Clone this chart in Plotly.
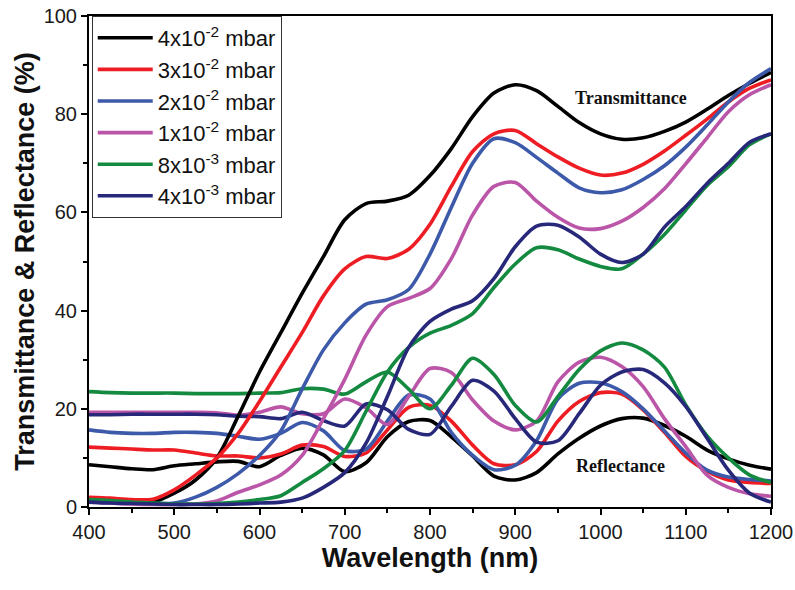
import plotly.graph_objects as go

wavelength = [400, 425, 450, 475, 500, 525, 550, 575, 600, 625, 650, 675, 700, 725, 750, 775,
              800, 825, 850, 875, 900, 925, 950, 975, 1000, 1025, 1050, 1075, 1100, 1125, 1150, 1175, 1200]

labels = ["4x10<sup>-2</sup> mbar", "3x10<sup>-2</sup> mbar", "2x10<sup>-2</sup> mbar",
          "1x10<sup>-2</sup> mbar", "8x10<sup>-3</sup> mbar", "4x10<sup>-3</sup> mbar"]
colors = ["#000000", "#ee1d24", "#3c5aa9", "#bb55a8", "#148a40", "#27287a"]

# Transmittance (%)
T_4e2 = [1.5, 1.3, 1.0, 1.0, 2.8, 5.5, 10, 18.5, 27.5, 35.5, 43.5, 51, 58.5, 61.8, 62.3, 63.5,
         67.5, 73, 79.5, 84.3, 86, 84.8, 81.6, 78.3, 76, 74.9, 75.2, 76.5, 78.4, 81, 83.8, 86.3, 88.5]
T_3e2 = [2.0, 1.8, 1.5, 1.6, 3.5, 6.5, 10, 15, 21.5, 28.5, 35.5, 43, 48.5, 51, 50.6, 52.5,
         57.6, 65.3, 72.4, 76, 76.7, 74, 71.3, 69, 67.6, 68, 69.8, 72.5, 75.7, 79, 82.5, 85.3, 87]
T_2e2 = [1.0, 1.0, 0.8, 0.7, 0.8, 2.0, 4.0, 6.8, 10.5, 15.5, 24, 32, 37.5, 41.3, 42.2, 44.3,
         51.5, 61, 70, 75, 74.2, 71.2, 68, 65, 64, 64.6, 66.7, 69.5, 73.3, 77.8, 82.5, 86.5, 89.3]
T_1e2 = [1.0, 0.8, 0.6, 0.5, 0.5, 0.6, 1.2, 3.0, 4.5, 6.5, 10.5, 18, 26, 35, 40.8, 42.5,
         44.5, 50.6, 59.5, 65.3, 66.1, 62.3, 59, 56.8, 56.7, 58.2, 61, 64.8, 69.9, 75.2, 80.5, 84, 86]
T_8e3 = [1.5, 1.3, 1.0, 0.8, 0.6, 0.6, 0.7, 1.0, 1.5, 2.3, 5.0, 7.8, 11.5, 19.5, 27.5, 32.5,
         35.4, 37, 39.4, 44.7, 49.5, 52.8, 52.4, 50.5, 49, 48.5, 51.5, 55.5, 60.5, 65.5, 69.3, 73.8, 76]
T_4e3 = [1.0, 0.8, 0.7, 0.6, 0.5, 0.5, 0.5, 0.6, 0.8, 1.0, 1.8, 4.0, 7.0, 13.0, 22.5, 32.5,
         37.8, 40.3, 42, 46.5, 53, 57.2, 57.4, 55, 51.5, 49.8, 51.5, 57, 61.2, 65.9, 70, 74.3, 76]

# Reflectance (%)
R_4e2 = [8.6, 8.2, 7.8, 7.6, 8.4, 8.8, 9.2, 9.3, 8.2, 10.5, 12, 10.6, 7.2, 9, 14.3, 17.4,
         17.6, 14.3, 10.4, 6.3, 5.5, 7, 10.8, 14, 16.5, 18, 18.1, 16.6, 14.4, 11.6, 9.8, 8.5, 7.7]
R_3e2 = [12.2, 12, 11.8, 11.6, 11.6, 11, 10.4, 10.4, 10, 10.8, 12.6, 12.3, 10.3, 11, 15.7, 20.3,
         20.7, 17.5, 12.6, 8.8, 8.6, 11.3, 17.5, 21.5, 23.3, 23, 19.8, 15.2, 10.3, 7.3, 5.5, 5.0, 4.8]
R_2e2 = [15.7, 15.2, 15, 15, 15.2, 15.2, 15, 14.4, 13.8, 15, 17.2, 15.5, 11.5, 11.8, 17.5, 22.8,
         22, 15.2, 10.5, 7.6, 8.5, 13.5, 22, 25.2, 25.3, 23.5, 20, 15.5, 11, 7.5, 6.1, 5.6, 5.3]
R_1e2 = [19.3, 19.3, 19.3, 19.3, 19.3, 19.3, 19.2, 18.7, 19.3, 20.4, 19, 19, 22, 20.2, 16.8, 22.5,
         28.2, 27.4, 21.8, 17.5, 15.7, 17.5, 25.5, 29.5, 30.5, 28.6, 24.5, 18, 12.3, 6.5, 4, 2.7, 2.2]
R_8e3 = [23.5, 23.3, 23.2, 23.2, 23.2, 23.1, 23.1, 23.1, 23.2, 23.3, 24.1, 24, 23, 25.5, 27.5, 24,
         20, 24.8, 30.3, 27, 20.7, 17.3, 22.5, 28, 31.8, 33.4, 32, 28.5, 20.8, 14.5, 10, 6.5, 5]
R_4e3 = [18.8, 18.8, 18.9, 18.9, 18.9, 18.9, 18.8, 18.5, 18.4, 18, 19.3, 17.6, 16.5, 21, 19.8, 15.8,
         14.8, 20.5, 25.8, 23.6, 18, 13.2, 13.5, 19, 24.8, 27.5, 28, 25.3, 20.5, 14, 7.5, 2.8, 1]

T_series = [T_4e2, T_3e2, T_2e2, T_1e2, T_8e3, T_4e3]
R_series = [R_4e2, R_3e2, R_2e2, R_1e2, R_8e3, R_4e3]

fig = go.Figure()
for i in range(6):
    fig.add_trace(go.Scatter(x=wavelength, y=R_series[i], mode="lines", name=labels[i],
                             line=dict(color=colors[i], width=3.6, shape="spline", smoothing=0.8),
                             showlegend=False, legendgroup=str(i)))
for i in range(6):
    fig.add_trace(go.Scatter(x=wavelength, y=T_series[i], mode="lines", name=labels[i],
                             line=dict(color=colors[i], width=3.6, shape="spline", smoothing=0.8),
                             showlegend=True, legendgroup=str(i)))

fig.add_annotation(x=1036, y=83.3, text="Transmittance", showarrow=False,
                   font=dict(family="Liberation Serif", size=18, color="#111", weight="bold"))
fig.add_annotation(x=1024, y=8.4, text="Reflectance", showarrow=False,
                   font=dict(family="Liberation Serif", size=18, color="#111", weight="bold"))

axis_common = dict(showline=True, linewidth=2, linecolor="black", mirror=True,
                   ticks="outside", tickwidth=2, ticklen=6, tickcolor="black",
                   showgrid=False, zeroline=False, ticklabeloverflow="allow", automargin=False,
                   tickfont=dict(family="Arial, Liberation Sans", size=20, color="#1a1a1a"))

fig.update_xaxes(range=[400, 1200], dtick=100, tick0=400,
                 minor=dict(ticks="outside", ticklen=4, tickwidth=1.5, tickcolor="black", dtick=50),
                 title=dict(text="Wavelength (nm)", standoff=6,
                            font=dict(family="Arial, Liberation Sans", size=27, color="#111", weight="bold")),
                 **axis_common)
fig.update_yaxes(range=[0, 100], dtick=20, tick0=0,
                 minor=dict(ticks="outside", ticklen=4, tickwidth=1.5, tickcolor="black", dtick=10),
                 title=dict(text="Transmittance & Reflectance (%)", standoff=1,
                            font=dict(family="Arial, Liberation Sans", size=27, color="#111", weight="bold")),
                 **axis_common)

fig.update_layout(
    width=795, height=590,
    margin=dict(l=89, r=24, t=16, b=83, autoexpand=False),
    plot_bgcolor="white", paper_bgcolor="white",
    legend=dict(x=0.004, y=1.0, xanchor="left", yanchor="top",
                bordercolor="#333", borderwidth=1, bgcolor="white",
                font=dict(family="Arial, Liberation Sans", size=22, color="#111"),
                itemwidth=55, tracegroupgap=0, traceorder="normal"),
)

fig.write_html("out.html")
